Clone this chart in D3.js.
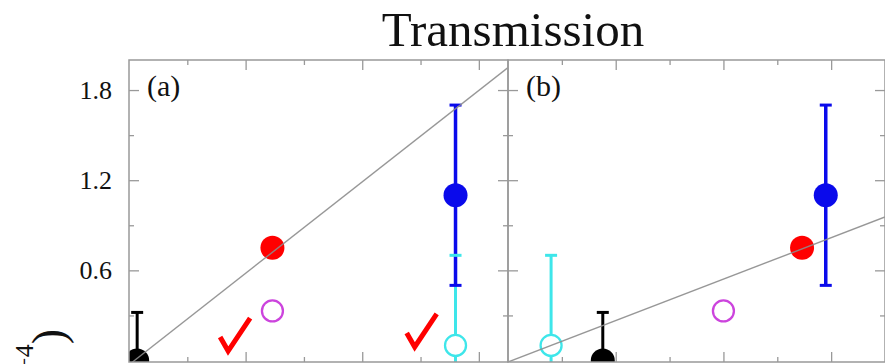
<!DOCTYPE html>
<html>
<head>
<meta charset="utf-8">
<script src="https://d3js.org/d3.v7.min.js"></script>
<style>
  body { margin: 0; background: #fff; }
  svg { display: block; }
</style>
</head>
<body>
<div id="chart"></div>
<script>
// values (x in arbitrary units, y in units of 1e-4)
const panelLabels = ["(a)", "(b)"];
const pointNames = ["black", "cyan", "red", "magenta", "blue"];
const xPanelA = [0.07, 2.80, 1.23, 1.23, 2.80];
const xPanelB = [0.88, 0.40, 2.73, 2.00, 2.95];
const yValues = [0.00, 0.10, 0.75, 0.33, 1.10];
const yErrors = [0.32, 0.60, 0, 0, 0.60];
const isFilled = [true, false, true, false, true];
const pointColors = ["#000000", "#3ee6ea", "#ff0000", "#cc44dd", "#0a0aeb"];

// grey fit lines, one per panel
const fitA = [[0.03, -0.01], [3.25, 1.95]];
const fitB = [[0.00, -0.01], [3.50, 0.955]];

// red check marks in panel (a)
const checkX = [0.85, 2.45];
const checkY = [0.063, 0.09];

const yMajor = [0.6, 1.2, 1.8];
const yMinor = [0.3, 0.9, 1.5];
const xMajor = [1, 2, 3];
const xMinor = [0.5, 1.5, 2.5];

const xDomains = [[0, 3.25], [0, 3.5]];

document.addEventListener("DOMContentLoaded", function(){

  const widthValue = 885;
  const heightValue = 364;
  const plotTop = 60, plotBottom = 362;
  const panelLeft = [129, 508];
  const panelRight = [508, 885];
  const axisColor = "#999";
  const serif = "'Liberation Serif', 'Times New Roman', serif";

  const svg = d3.select("#chart")
                .append("svg")
                .attr("width", widthValue)
                .attr("height", heightValue)
                .style("font-family", serif);

  const yScale = d3.scaleLinear()
                   .domain([-0.01, 2.0])
                   .range([plotBottom, plotTop]);

  const xPanels = [xPanelA, xPanelB];
  const fits = [fitA, fitB];

  panelLabels.forEach(function(label, i){
    const xScale = d3.scaleLinear()
                     .domain(xDomains[i])
                     .range([panelLeft[i], panelRight[i]]);

    const clipId = "clip" + i;
    svg.append("clipPath")
        .attr("id", clipId)
      .append("rect")
        .attr("x", panelLeft[i])
        .attr("y", plotTop)
        .attr("width", panelRight[i] - panelLeft[i])
        .attr("height", plotBottom - plotTop);

    const g = svg.append("g").attr("clip-path", `url(#${clipId})`);

    const pts = pointNames.map(function(n, k){
      return { name: n, x: xPanels[i][k], y: yValues[k], err: yErrors[k],
               filled: isFilled[k], color: pointColors[k] };
    });

    // error bars
    const bars = pts.filter(d => d.err > 0);
    g.selectAll(".bar")
      .data(bars)
      .enter()
      .append("line")
        .attr("x1", d => xScale(d.x))
        .attr("x2", d => xScale(d.x))
        .attr("y1", d => yScale(d.y - d.err))
        .attr("y2", d => yScale(d.y + d.err))
        .attr("stroke", d => d.color)
        .attr("stroke-width", d => d.name == "blue" ? 3.5 : 3);

    [-1, 1].forEach(function(s){
      g.selectAll(".cap")
        .data(bars)
        .enter()
        .append("line")
          .attr("x1", d => xScale(d.x) - 6)
          .attr("x2", d => xScale(d.x) + 6)
          .attr("y1", d => yScale(d.y + s * d.err))
          .attr("y2", d => yScale(d.y + s * d.err))
          .attr("stroke", d => d.color)
          .attr("stroke-width", 3);
    });

    // markers
    g.selectAll(".dot")
      .data(pts)
      .enter()
      .append("circle")
        .attr("cx", d => xScale(d.x))
        .attr("cy", d => yScale(d.y))
        .attr("r", d => d.filled ? 12 : 10.5)
        .attr("fill", d => d.filled ? d.color : "#fff")
        .attr("stroke", d => d.color)
        .attr("stroke-width", d => d.filled ? 0 : 2.3);

    // check marks (panel a only)
    if (i == 0) {
      g.selectAll(".check")
        .data(checkX.map((c, k) => [c, checkY[k]]))
        .enter()
        .append("path")
          .attr("d", d => {
            const cx = xScale(d[0]), cy = yScale(d[1]);
            return `M${cx - 8},${cy - 14}L${cx},${cy}L${cx + 22},${cy - 33}`;
          })
          .attr("fill", "none")
          .attr("stroke", "#ff0000")
          .attr("stroke-width", 5)
          .attr("stroke-linejoin", "miter");
    }

    // fit line on top
    g.append("path")
      .datum(fits[i])
      .attr("d", d3.line().x(d => xScale(d[0])).y(d => yScale(d[1])))
      .attr("fill", "none")
      .attr("stroke", "#8c8c8c")
      .attr("stroke-opacity", 0.9)
      .attr("stroke-width", 1.4);

    // ticks pointing inward on all four sides
    function ticks(axis, tx, ty, values, size, fmt){
      const a = svg.append("g")
        .attr("transform", `translate(${tx},${ty})`)
        .call(axis.tickValues(values).tickSize(-size).tickSizeOuter(0)
                  .tickPadding(17).tickFormat(fmt || ""));
      a.select(".domain").remove();
      a.selectAll("line").attr("stroke", axisColor).attr("stroke-width", 1.3);
      a.attr("font-family", serif).attr("font-size", 26);
      a.selectAll("text").attr("fill", "#111");
      return a;
    }

    ticks(d3.axisBottom(xScale), 0, plotBottom, xMajor, 10);
    ticks(d3.axisBottom(xScale), 0, plotBottom, xMinor, 5);
    ticks(d3.axisTop(xScale), 0, plotTop, xMajor, 10);
    ticks(d3.axisTop(xScale), 0, plotTop, xMinor, 5);
    ticks(d3.axisLeft(yScale), panelLeft[i], 0, yMajor, 10, i == 0 ? d3.format(".1f") : "");
    ticks(d3.axisLeft(yScale), panelLeft[i], 0, yMinor, 5);
    ticks(d3.axisRight(yScale), panelRight[i], 0, yMajor, 10);
    ticks(d3.axisRight(yScale), panelRight[i], 0, yMinor, 5);

    // frame
    svg.append("rect")
      .attr("x", panelLeft[i])
      .attr("y", plotTop)
      .attr("width", panelRight[i] - panelLeft[i])
      .attr("height", plotBottom - plotTop)
      .attr("fill", "none")
      .attr("stroke", axisColor)
      .attr("stroke-width", 1.5);

    svg.append("text")
      .attr("x", panelLeft[i] + 18)
      .attr("y", 96)
      .attr("font-size", 30)
      .attr("fill", "#111")
      .text(label);
  });

  // title
  svg.append("text")
    .attr("x", 513)
    .attr("y", 46)
    .attr("text-anchor", "middle")
    .attr("font-size", 49)
    .attr("fill", "#111")
    .text("Transmission");

  // y label, mostly cut off at the bottom edge
  const ylab = svg.append("text")
    .attr("transform", "translate(64,329) rotate(-90)")
    .attr("text-anchor", "end")
    .attr("font-size", 46)
    .attr("fill", "#111");
  ylab.append("tspan").text("(10");
  ylab.append("tspan").attr("font-size", 26).attr("dy", -31).text("\u22124");
  ylab.append("tspan").attr("dy", 31).text(")");
});
</script>
</body>
</html>
